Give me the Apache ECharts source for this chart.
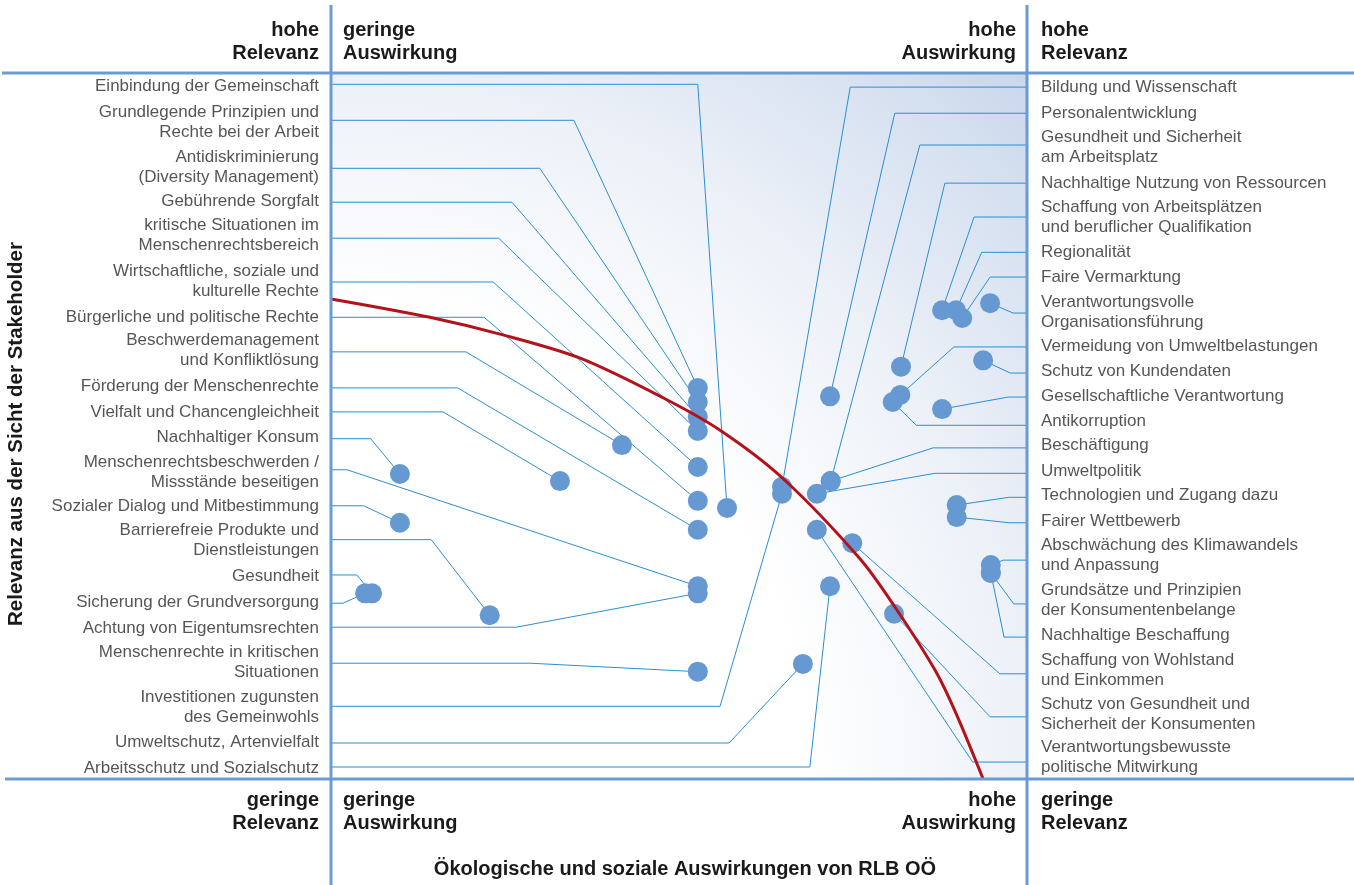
<!DOCTYPE html>
<html>
<head>
<meta charset="utf-8">
<title>Wesentlichkeitsmatrix RLB OÖ</title>
<script src="https://cdn.jsdelivr.net/npm/echarts@6/dist/echarts.min.js"></script>
<style>
  html, body { margin: 0; padding: 0; background: #ffffff; }
  #chart { width: 1354px; height: 885px; }
</style>
</head>
<body>
<div id="chart"></div>
<script>
// Scale 0–10 on both axes: x = Auswirkung (impact), y = Relevanz (stakeholder relevance)

// Topics labelled on the left side
const leftTopics = [
  'Einbindung der Gemeinschaft',
  'Grundlegende Prinzipien und\nRechte bei der Arbeit',
  'Antidiskriminierung\n(Diversity Management)',
  'Gebührende Sorgfalt',
  'kritische Situationen im\nMenschenrechtsbereich',
  'Wirtschaftliche, soziale und\nkulturelle Rechte',
  'Bürgerliche und politische Rechte',
  'Beschwerdemanagement\nund Konfliktlösung',
  'Förderung der Menschenrechte',
  'Vielfalt und Chancengleichheit',
  'Nachhaltiger Konsum',
  'Menschenrechtsbeschwerden /\nMissstände beseitigen',
  'Sozialer Dialog und Mitbestimmung',
  'Barrierefreie Produkte und\nDienstleistungen',
  'Gesundheit',
  'Sicherung der Grundversorgung',
  'Achtung von Eigentumsrechten',
  'Menschenrechte in kritischen\nSituationen',
  'Investitionen zugunsten\ndes Gemeinwohls',
  'Umweltschutz, Artenvielfalt',
  'Arbeitsschutz und Sozialschutz'
];
const leftImpact    = [5.69, 5.27, 5.27, 5.27, 5.27, 5.27, 5.27, 4.18, 5.27, 3.29, 0.99, 5.27, 0.99, 2.28, 0.59, 0.49, 5.27, 5.27, 6.48, 6.78, 7.17];
const leftRelevance = [3.84, 5.54, 5.34, 5.13, 4.93, 4.42, 3.94, 4.73, 3.53, 4.22, 4.32, 2.73, 3.63, 2.32, 2.63, 2.63, 2.63, 1.52, 4.04, 1.63, 2.73];
const leftLabelY    = [9.83, 9.32, 8.68, 8.20, 7.71, 7.07, 6.56, 6.08, 5.57, 5.21, 4.86, 4.36, 3.87, 3.39, 2.88, 2.52, 2.15, 1.67, 1.03, 0.54, 0.17];
const leftLeaderY   = [9.84, 9.33, 8.65, 8.17, 7.66, 7.04, 6.54, 6.05, 5.54, 5.20, 4.82, 4.38, 3.87, 3.39, 2.89, 2.49, 2.15, 1.64, 1.03, 0.51, 0.17];
const leftElbowX    = [5.27, 3.49, 3.00, 2.60, 2.41, 2.33, 2.20, 1.94, 1.82, 1.61, 0.57, 0.23, 0.47, 1.44, 0.37, 0.17, 2.66, 2.86, 5.59, 5.72, 6.88];

// Topics labelled on the right side
const rightTopics = [
  'Bildung und Wissenschaft',
  'Personalentwicklung',
  'Gesundheit und Sicherheit\nam Arbeitsplatz',
  'Nachhaltige Nutzung von Ressourcen',
  'Schaffung von Arbeitsplätzen\nund beruflicher Qualifikation',
  'Regionalität',
  'Faire Vermarktung',
  'Verantwortungsvolle\nOrganisationsführung',
  'Vermeidung von Umweltbelastungen',
  'Schutz von Kundendaten',
  'Gesellschaftliche Verantwortung',
  'Antikorruption',
  'Beschäftigung',
  'Umweltpolitik',
  'Technologien und Zugang dazu',
  'Fairer Wettbewerb',
  'Abschwächung des Klimawandels\nund Anpassung',
  'Grundsätze und Prinzipien\nder Konsumentenbelange',
  'Nachhaltige Beschaffung',
  'Schaffung von Wohlstand\nund Einkommen',
  'Schutz von Gesundheit und\nSicherheit der Konsumenten',
  'Verantwortungsbewusste\npolitische Mitwirkung'
];
const rightImpact    = [6.48, 7.17, 7.18, 8.19, 8.78, 8.98, 9.07, 9.47, 8.18, 9.37, 8.78, 8.07, 7.18, 6.98, 8.99, 8.99, 9.48, 9.48, 9.48, 7.49, 8.09, 6.98];
const rightRelevance = [4.14, 5.42, 4.22, 5.84, 6.64, 6.64, 6.53, 6.74, 5.44, 5.93, 5.24, 5.34, 4.22, 4.04, 3.88, 3.71, 3.03, 2.92, 2.92, 3.34, 2.34, 3.53];
const rightLabelY    = [9.82, 9.46, 8.97, 8.47, 7.99, 7.49, 7.14, 6.64, 6.16, 5.81, 5.45, 5.10, 4.75, 4.39, 4.04, 3.68, 3.19, 2.56, 2.07, 1.57, 0.95, 0.33];
const rightLeaderY   = [9.80, 9.43, 8.98, 8.44, 7.96, 7.46, 7.11, 6.60, 6.12, 5.75, 5.41, 5.01, 4.69, 4.33, 3.99, 3.63, 3.10, 2.48, 2.01, 1.49, 0.88, 0.24];
const rightElbowX    = [7.46, 8.10, 8.46, 8.82, 9.24, 9.35, 9.47, 9.80, 8.95, 9.76, 9.73, 8.41, 8.65, 8.68, 9.74, 9.74, 9.66, 9.81, 9.67, 9.61, 9.47, 9.22];

// Materiality threshold curve
const thresholdImpact    = [0.00, 1.42, 2.47, 3.58, 4.77, 5.59, 6.49, 7.60, 8.10, 8.68, 8.98, 9.37];
const thresholdRelevance = [6.80, 6.54, 6.29, 5.96, 5.40, 4.94, 4.26, 3.12, 2.44, 1.54, 0.93, 0.00];

const AXIS_MIN = 0, AXIS_MAX = 10;
const FONT = '"Liberation Sans", Arial, Helvetica, sans-serif';
const FRAME_COLOR = '#6b9bd2';
const LEADER_COLOR = '#2b8fd1';
const DOT_COLOR = '#6699d1';
const CURVE_COLOR = '#b3121b';
const TEXT_COLOR = '#2b2b2b';
const HEAD_COLOR = '#1a1a1a';

// Build dot and leader data from the arrays above
const dots = [];
const leaders = [];
leftTopics.forEach((name, i) => {
  dots.push({ name, value: [leftImpact[i], leftRelevance[i]] });
  leaders.push({ coords: [[AXIS_MIN, leftLeaderY[i]], [leftElbowX[i], leftLeaderY[i]], [leftImpact[i], leftRelevance[i]]] });
});
rightTopics.forEach((name, i) => {
  dots.push({ name, value: [rightImpact[i], rightRelevance[i]] });
  leaders.push({ coords: [[AXIS_MAX, rightLeaderY[i]], [rightElbowX[i], rightLeaderY[i]], [rightImpact[i], rightRelevance[i]]] });
});
const leftLabels = leftTopics.map((name, i) => ({ name, value: [AXIS_MIN, leftLabelY[i]] }));
const rightLabels = rightTopics.map((name, i) => ({ name, value: [AXIS_MAX, rightLabelY[i]] }));
const threshold = thresholdImpact.map((x, i) => [x, thresholdRelevance[i]]);

const chart = echarts.init(document.getElementById('chart'), null, { renderer: 'canvas' });

const hiddenAxis = {
  type: 'value',
  min: AXIS_MIN,
  max: AXIS_MAX,
  axisLine: { show: false },
  axisTick: { show: false },
  axisLabel: { show: false },
  splitLine: { show: false },
  nameLocation: 'middle'
};
const titleStyle = { fontFamily: FONT, fontWeight: 'bold', fontSize: 20, color: HEAD_COLOR };

const labelText = {
  show: true,
  formatter: p => p.name,
  fontFamily: FONT,
  fontSize: 17,
  lineHeight: 20,
  color: TEXT_COLOR
};

chart.setOption({
  animation: false,
  backgroundColor: '#ffffff',
  grid: {
    left: 331, top: 73, width: 696, height: 706,
    outerBoundsMode: 'none',
    containLabel: false,
    show: true,
    borderWidth: 0,
    // white towards the lower left, blue towards the upper right
    backgroundColor: new echarts.graphic.RadialGradient(0, 1, 1.42, [
      { offset: 0, color: '#ffffff' },
      { offset: 0.48, color: '#ffffff' },
      { offset: 0.7, color: '#edf1f8' },
      { offset: 1, color: '#cad8ec' }
    ])
  },
  xAxis: Object.assign({}, hiddenAxis, {
    name: 'Ökologische und soziale Auswirkungen von RLB OÖ',
    nameGap: 80,
    nameTextStyle: Object.assign({}, titleStyle, { padding: [0, 0, 0, 12] })
  }),
  yAxis: Object.assign({}, hiddenAxis, {
    name: 'Relevanz aus der Sicht der Stakeholder',
    nameGap: 304,
    nameTextStyle: Object.assign({}, titleStyle, { fontSize: 20.5, padding: [0, 16, 0, 0] })
  }),
  series: [
    {
      name: 'leaders',
      type: 'lines',
      coordinateSystem: 'cartesian2d',
      polyline: true,
      silent: true,
      z: 2,
      lineStyle: { color: LEADER_COLOR, width: 1, opacity: 1 },
      data: leaders
    },
    {
      name: 'themen',
      type: 'scatter',
      z: 3,
      symbolSize: 20,
      itemStyle: { color: DOT_COLOR, opacity: 1 },
      data: dots
    },
    {
      name: 'wesentlichkeit',
      type: 'line',
      z: 4,
      smooth: 0.3,
      symbol: 'none',
      silent: true,
      lineStyle: { color: CURVE_COLOR, width: 3 },
      data: threshold
    },
    {
      name: 'labels-left',
      type: 'scatter',
      symbolSize: 0,
      clip: false,
      silent: true,
      label: Object.assign({}, labelText, { position: 'left', distance: 12, align: 'right', offset: [0, 1] }),
      data: leftLabels
    },
    {
      name: 'labels-right',
      type: 'scatter',
      symbolSize: 0,
      clip: false,
      silent: true,
      label: Object.assign({}, labelText, { position: 'right', distance: 14, align: 'left', offset: [0, 2] }),
      data: rightLabels
    }
  ]
});

// Frame lines and quadrant captions, placed from the axes' corners
const W = chart.getWidth(), H = chart.getHeight();
const lowCorner = chart.convertToPixel({ gridIndex: 0 }, [AXIS_MIN, AXIS_MIN]);
const highCorner = chart.convertToPixel({ gridIndex: 0 }, [AXIS_MAX, AXIS_MAX]);
const xL = lowCorner[0], yB = lowCorner[1], xR = highCorner[0], yT = highCorner[1];

const frameStyle = { stroke: FRAME_COLOR, lineWidth: 3 };
const headFont = 'bold 20px ' + FONT;
function caption(text, x, y, align, vAlign) {
  return {
    type: 'text', x, y, z: 10, silent: true,
    style: { text, align, verticalAlign: vAlign, font: headFont, fill: HEAD_COLOR, lineHeight: 23 }
  };
}

chart.setOption({
  graphic: [
    { type: 'line', z: 5, silent: true, shape: { x1: xL, y1: 5, x2: xL, y2: H }, style: frameStyle },
    { type: 'line', z: 5, silent: true, shape: { x1: xR, y1: 5, x2: xR, y2: H }, style: frameStyle },
    { type: 'line', z: 5, silent: true, shape: { x1: 2, y1: yT, x2: W, y2: yT }, style: frameStyle },
    { type: 'line', z: 5, silent: true, shape: { x1: 5, y1: yB, x2: W, y2: yB }, style: frameStyle },

    caption('hohe\nRelevanz', xL - 12, yT - 8, 'right', 'bottom'),
    caption('geringe\nAuswirkung', xL + 12, yT - 8, 'left', 'bottom'),
    caption('hohe\nAuswirkung', xR - 11, yT - 8, 'right', 'bottom'),
    caption('hohe\nRelevanz', xR + 14, yT - 8, 'left', 'bottom'),

    caption('geringe\nRelevanz', xL - 12, yB + 10, 'right', 'top'),
    caption('geringe\nAuswirkung', xL + 12, yB + 10, 'left', 'top'),
    caption('hohe\nAuswirkung', xR - 11, yB + 10, 'right', 'top'),
    caption('geringe\nRelevanz', xR + 14, yB + 10, 'left', 'top')
  ]
});
</script>
</body>
</html>
